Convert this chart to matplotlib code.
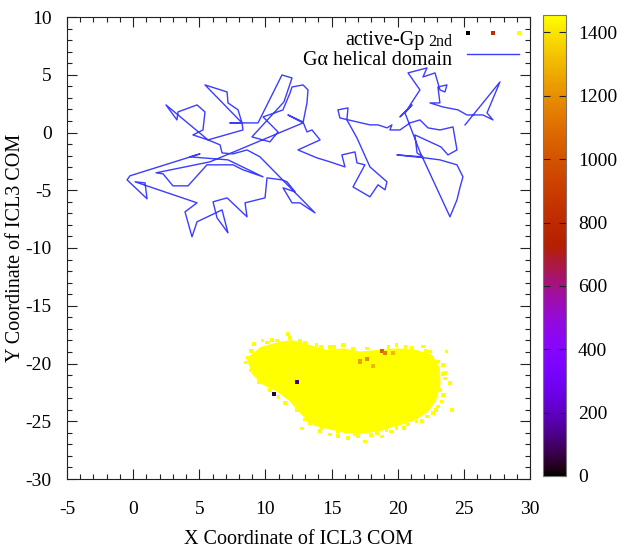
import numpy as np
import matplotlib
matplotlib.use("Agg")
import matplotlib.pyplot as plt
from matplotlib.colors import Normalize
from matplotlib.patches import Polygon
from matplotlib.ticker import MultipleLocator

plt.rcParams['font.family'] = ['Liberation Serif', 'DejaVu Serif']
plt.rcParams['axes.unicode_minus'] = False

# ---- G-alpha helical domain COM trajectory ----
helix_x = [12.84, 5.81,
           1.73, 2.26, 3.01, 4.15, 5.58, 7.55, 8.30, 9.82, 7.17, 4.30, 5.05, -0.24, -0.46, 1.05,
           0.90, 0.14, 4.83, 3.92,
           4.45, 4.83, 6.72, 7.17, 6.34, 6.04, 7.10, 8.61, 8.46, 9.97, 10.12, 11.25, 11.63, 12.24,
           11.33, 12.01, 12.61, 13.75, 9.59, 8.61, 7.55, 6.72, 6.57, 5.66, 4.52, 5.28, 5.43, 4.83,
           3.39, 3.31, 2.48, 5.66, 8.30, 8.23, 5.43, 7.10, 7.17, 7.93, 8.23, 7.32, 9.44, 11.25,
           12.01, 11.40, 8.98, 10.34, 10.95, 9.82, 11.32, 11.86, 12.01, 12.84, 13.22, 13.14, 12.84,
           11.70, 12.84, 13.14, 13.52, 14.13,
           12.46, 13.90, 14.88, 16.01, 15.78, 16.77, 16.92, 17.52, 16.62,
           17.90, 18.51, 19.04, 19.19, 17.90, 16.92, 16.16, 16.24,
           15.48, 15.63, 17.90, 18.51, 19.19, 19.56, 19.41, 20.17, 20.93, 21.68, 22.29, 23.19, 24.18,
           24.48, 23.80, 23.27, 21.30, 21.46, 21.91, 19.94, 22.06, 23.19, 24.48, 24.93, 24.70, 24.48,
           23.95, 21.68, 20.55, 21.08, 20.17, 20.70, 21.68, 20.78, 22.21, 21.91, 22.82, 23.19, 23.57,
           23.72, 23.04, 23.19, 22.44, 23.42, 24.55, 25.23, 26.44, 27.20, 26.75, 27.73, 25.09]
helix_y = [0.83, -2.54,
           -3.49, -3.58, -4.62, -4.62, -2.80, -2.80, -3.23, -3.84, -2.37, -2.11, -1.85, -3.75, -4.10, -5.74,
           -4.36, -4.27, -6.09, -6.87,
           -9.03, -7.73, -6.70, -8.69, -7.39, -6.00, -5.66, -7.30, -6.09, -5.66, -3.93, -4.10, -4.27, -5.14,
           -4.79, -6.09, -6.09, -6.96, -2.11, -1.51, -1.85, -1.77, -1.07, -0.64, -0.21, 0.22, 1.78, 2.39,
           1.78, 1.09, 2.39, -0.64, 0.22, 0.83, 4.12, 3.51, 2.56, 1.96, 0.83, 0.83, 0.83, 4.98,
           4.72, 2.65, -0.38, -0.81, 0.05, 1.35, 1.95, 3.42, 3.94, 4.12, 3.69, 2.56, 0.83,
           1.52, 0.92, 0.05, 0.22, -0.64,
           -1.51, -2.20, -2.54, -2.98, -1.94, -1.68, -2.63, -2.80, -4.71,
           -5.57, -4.53, -4.96, -4.27, -2.98, -0.47, 1.09, 2.13,
           1.96, 1.26, 0.66, 0.66, 0.40, 0.66, 0.22, 0.22, 0.83, 1.09, 0.40, 0.22, 0.48,
           -1.51, -1.94, -1.25, -0.21, -1.77, -2.11, -1.94, -2.20, -2.37, -2.80, -3.84, -4.79, -5.83,
           -7.30, -1.68, 1.70, 2.39, 1.35, 1.96, 3.69, 5.16, 5.59, 4.81, 5.16, 3.69, 3.51,
           4.12, 3.94, 2.56, 2.56, 2.21, 1.96, 1.52, 1.52, 1.09, 1.70, 4.38, 0.66]

# ---- active-Gp 2nd: ICL3 COM frames ----
# densely populated region (frames at the top count)
core_x = [8.70, 9.72, 11.10, 11.98, 13.37, 14.63, 15.88, 17.15, 18.41, 19.92, 21.43, 22.57,
          23.07, 23.14, 22.82, 22.19, 21.18, 19.92, 18.66, 17.40, 16.14, 14.88, 13.75, 12.86,
          11.86, 10.85, 9.84, 9.08]
core_y = [-19.60, -18.66, -18.23, -18.09, -18.52, -18.95, -18.81, -19.09, -18.95, -18.81, -18.95, -19.39,
          -20.39, -21.69, -23.13, -24.14, -24.86, -25.29, -25.73, -25.96, -25.93, -25.59, -25.29, -24.43,
          -23.13, -22.27, -21.72, -20.86]
core_value = 1455

# isolated frames around the dense region
edge_x = [11.73, 11.86, 9.16, 9.79, 8.70, 9.04, 9.72, 10.34, 11.35, 12.74, 13.37, 15.51, 16.26,
          17.52, 16.77, 18.41, 19.16, 19.92, 20.80, 22.19, 23.07, 24.08, 23.95, 23.44, 23.70,
          23.07, 21.93, 19.92, 15.88, 14.88, 13.87, 12.99, 10.85, 10.14, 9.46, 9.59, 10.09,
          10.85, 12.11, 12.49, 12.99, 14.12, 14.88, 18.79, 21.43, 22.69, 23.19, 23.57, 23.44,
          22.44, 21.05,
          10.50, 12.60, 14.20, 15.20, 16.60, 17.70, 19.30, 20.60, 22.10, 23.40, 23.60, 23.30,
          22.90, 21.80, 20.50, 19.50, 18.00, 17.00, 15.50, 14.30, 13.30, 12.40, 11.50, 11.00,
          9.50, 8.90, 8.50, 8.90]
edge_y = [-17.42, -17.79, -18.29, -18.00, -19.47, -20.39, -21.11, -22.27, -22.41, -25.63, -25.15, -26.25, -26.45,
          -26.74, -26.16, -26.01, -25.73, -25.58, -25.29, -24.58, -23.71, -24.00, -21.69, -22.70, -18.95,
          -19.82, -18.52, -18.37, -18.37, -18.57, -18.37, -18.17, -18.00, -18.17, -19.09, -20.11, -21.55,
          -21.83, -22.98, -23.71, -24.86, -25.87, -26.16, -26.31, -25.01, -24.30, -22.27, -20.82, -20.11,
          -18.95, -18.66,
          -17.95, -18.05, -18.55, -18.55, -18.75, -18.70, -18.55, -18.60, -18.90, -20.90, -21.30, -23.30,
          -24.00, -25.00, -25.60, -25.90, -26.20, -26.30, -25.90, -25.60, -24.90, -24.00, -23.40, -22.90,
          -21.60, -20.60, -19.90, -18.90]
edge_value = 1455

# frames with lower counts
low_x = [10.62, 12.36, 17.15, 17.65, 18.15, 18.79, 19.04, 19.67]
low_y = [-22.61, -21.60, -19.82, -19.61, -20.25, -18.95, -19.09, -19.09]
low_value = [40, 120, 1250, 1200, 1300, 1050, 1150, 1300]

# key sample colours
key_values = [0, 815, 1455]

cbar_max = 1455
x_ticks = [-5, 0, 5, 10, 15, 20, 25, 30]
y_ticks = [-30, -25, -20, -15, -10, -5, 0, 5, 10]
cbar_ticks = [0, 200, 400, 600, 800, 1000, 1200, 1400]

W, H = 627, 554
fig = plt.figure(figsize=(W / 100, H / 100), dpi=100)
ax = fig.add_axes([67 / W, 1 - 479 / H, 463 / W, 462 / H])
cax = fig.add_axes([543 / W, 1 - 476 / H, 23 / W, 461 / H])

cmap = plt.get_cmap('gnuplot')
norm = Normalize(vmin=0, vmax=cbar_max)
line_blue = '#3d3dff'

ax.plot(helix_x, helix_y, color=line_blue, lw=1.0, zorder=2)
ax.add_patch(Polygon(np.column_stack([core_x, core_y]), closed=True,
                     facecolor=cmap(norm(core_value)), edgecolor=cmap(norm(core_value)),
                     lw=2.0, joinstyle='round', zorder=3))
ax.scatter(edge_x, edge_y, c=[edge_value] * len(edge_x), cmap=cmap, norm=norm,
           marker='s', s=7, linewidths=0, zorder=3)
ax.scatter(low_x, low_y, c=low_value, cmap=cmap, norm=norm,
           marker='s', s=9, linewidths=0, zorder=4)

ax.set_xlim(-5, 30)
ax.set_ylim(-30, 10)
ax.set_xticks(x_ticks)
ax.set_yticks(y_ticks)
ax.xaxis.set_minor_locator(MultipleLocator(1))
ax.yaxis.set_minor_locator(MultipleLocator(1))
ax.tick_params(which='both', direction='in', top=True, right=True, width=0.8, color='#222222')
ax.tick_params(which='major', length=7.2, labelsize=14)
ax.tick_params(which='minor', length=3.6)
ax.tick_params(axis='x', which='major', pad=16)
ax.tick_params(axis='y', which='major', pad=11)
for sp in ax.spines.values():
    sp.set_linewidth(0.8)
    sp.set_color('#222222')

fig.text(298.5 / W, 1 - 540 / H, 'X Coordinate of ICL3 COM', ha='center', va='center', fontsize=14.5)
fig.text(16 / W, 1 - 248 / H, 'Y Coordinate of ICL3 COM', ha='center', va='center',
         rotation=90, fontsize=14.5)

# key
fig.text(424 / W, 1 - 45 / H, 'active-Gp', ha='right', va='baseline', fontsize=14.5)
fig.text(452 / W, 1 - 46.5 / H, '2nd', ha='right', va='baseline', fontsize=11.5)
fig.text(452 / W, 1 - 65 / H, 'Gα helical domain', ha='right', va='baseline', fontsize=14.5)
ax.scatter([0.8654, 0.9201, 0.9756], [0.9654] * 3, c=key_values, cmap=cmap, norm=norm,
           marker='s', s=7, linewidths=0, transform=ax.transAxes, clip_on=False, zorder=5)
ax.plot([0.864, 0.976], [0.9199, 0.9199], color=line_blue, lw=1.0, transform=ax.transAxes)

# colour box
sm = plt.cm.ScalarMappable(norm=norm, cmap=cmap)
cb = fig.colorbar(sm, cax=cax, ticks=cbar_ticks)
cb.outline.set_edgecolor('#777777')
cb.outline.set_linewidth(0.8)
cax.tick_params(direction='in', length=4.7, width=0.8, left=True, right=True,
                labelsize=14, pad=8.5, color='#222222')

fig.savefig('out.png', dpi=100)
